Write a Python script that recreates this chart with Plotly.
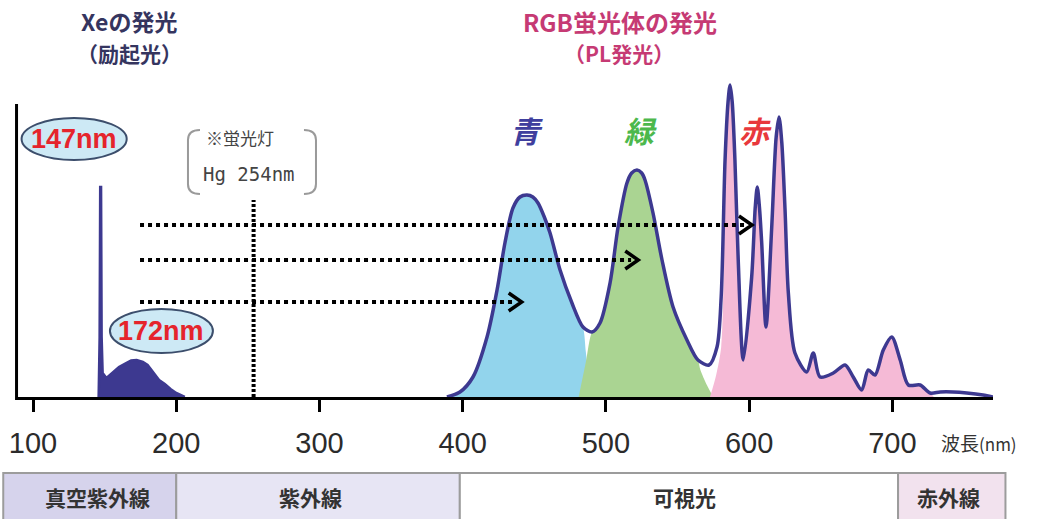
import plotly.graph_objects as go

# ---------------------------------------------------------------------------
# Spectra: wavelength (nm) and relative intensity (a.u.)
# ---------------------------------------------------------------------------
# Xe excimer emission (147 nm resonance line + 172 nm continuum)
xe_nm = [145.8, 146.5, 146.9, 147.5, 147.9, 148.6, 151.3, 155.0, 160.0, 165.0,
         168.5, 172.3, 176.7, 180.0, 184.0, 188.0, 192.0, 196.0, 200.0, 204.0, 206.0]
xe_int = [0, 60, 210, 210, 60, 24, 19, 24, 30, 34,
          36.5, 37, 35, 32, 25, 17, 13, 8, 4, 1, 0]

# Total photoluminescence of the RGB phosphor blend
pl_nm = [389, 398.1, 407.2, 417, 424, 429.5, 435.1, 440, 444.9, 449, 452.6, 457,
         461, 468, 476.3, 484, 490.3, 495.9, 502.9, 508.5, 514.7, 518, 521.7, 525,
         527.3, 532.9, 539.2, 546.9, 556.6, 564.3, 572, 577.6, 580.5, 583.2, 585.3,
         586.7, 588.2, 590.1, 592.4, 595.9, 601.8, 604.3, 605.7, 607.2, 608.8, 611.8,
         615.8, 618.9, 620.9, 622.8, 625.1, 627.4, 632, 640.2, 644.8, 649.5, 658.8,
         667, 672.7, 678.6, 683.2, 687.9, 693.7, 699.6, 705.5, 711.2, 719.4, 726.4,
         733.4, 742.4, 752, 763.3, 770.3]
pl_int = [0, 5, 20, 60, 107, 154, 189, 200, 202, 200, 194, 180,
          164, 127, 94, 70, 65, 74, 114, 170, 214, 224, 227, 224,
          217, 184, 137, 90, 57, 37, 32, 50, 100, 237, 295,
          312, 295, 237, 137, 37, 120, 190, 210, 190, 154, 70,
          170, 260, 280, 255, 187, 104, 44, 25, 44, 20, 24,
          32, 20, 7, 27, 22, 47, 60, 37, 12, 12, 4,
          5, 5, 4, 2, 0]

# Individual phosphor components
blue_nm = [389, 398.1, 407.2, 417, 424, 429.5, 435.1, 440, 444.9, 449, 452.6, 457,
           461, 468, 476.3, 484, 486, 488, 490, 491.5]
blue_int = [0, 5, 20, 60, 107, 154, 189, 200, 202, 200, 194, 180,
            164, 127, 94, 70, 45, 20, 5, 0]

green_nm = [481, 482, 486, 490.3, 495.9, 502.9, 508.5, 514.7, 518, 521.7, 525,
            527.3, 532.9, 539.2, 546.9, 556.6, 564.3, 566, 570.5, 575]
green_int = [0, 7, 35, 65, 74, 114, 170, 214, 224, 227, 224,
             217, 184, 137, 90, 57, 37, 27, 12, 0]

red_nm = [572.7, 577, 580.5, 582.5, 583.2, 585.3, 586.7, 588.2, 590.1, 592.4, 595.9,
          601.8, 604.3, 605.7, 607.2, 608.8, 611.8, 615.8, 618.9, 620.9, 622.8, 625.1,
          627.4, 632, 640.2, 644.8, 649.5, 658.8, 667, 672.7, 678.6, 683.2, 687.9,
          693.7, 699.6, 705.5, 711.2, 719.4, 726.4, 729]
red_int = [0, 22, 50, 150, 237, 295, 312, 295, 237, 137, 37,
           120, 190, 210, 190, 154, 70, 170, 260, 280, 255, 187,
           104, 44, 25, 44, 20, 24, 32, 20, 7, 27, 22,
           47, 60, 37, 12, 12, 4, 0]

# Energy transfer arrows: (start nm, tip nm, level)
arrow_rows = [(174.7, 602.0, 172), (174.7, 522.6, 137), (174.7, 441.2, 95)]

# Hg line of a fluorescent lamp
hg_nm = 254
hg_top = 197

tick_vals = [100, 200, 300, 400, 500, 600, 700]
tick_text = ["100", "200", "300", "400", "500", "600", "700"]

band_labels = ["真空紫外線", "紫外線", "可視光", "赤外線"]
band_edges = [(79.2, 200.0), (200.0, 398.0), (398.0, 704.0), (704.0, 779.0)]
band_fills = ["#d6d3ec", "#e7e5f4", "#ffffff", "#f2e2ee"]
band_text_nm = [144.9, 293.4, 554.9, 738.9]

# ---------------------------------------------------------------------------
X_RANGE = [89.5, 770.3]
Y_RANGE = [0, 397]
PLOT_H = 397
PX_PER_NM = 1.4321


def xp(nm):
    """wavelength -> paper x"""
    return (nm - X_RANGE[0]) / (X_RANGE[1] - X_RANGE[0])


def yp_px(dy):
    """pixels below the baseline -> paper y"""
    return -dy / PLOT_H


OUTLINE = "#3d3990"
CJK = "Noto Sans CJK JP"

fig = go.Figure()

fig.add_trace(go.Scatter(x=blue_nm, y=blue_int, mode="lines", fill="tozeroy",
                         fillcolor="#92d4ec", line=dict(width=0, shape="spline", smoothing=0.8),
                         hoverinfo="skip"))
fig.add_trace(go.Scatter(x=green_nm, y=green_int, mode="lines", fill="tozeroy",
                         fillcolor="#aad492", line=dict(width=0, shape="spline", smoothing=0.8),
                         hoverinfo="skip"))
fig.add_trace(go.Scatter(x=red_nm, y=red_int, mode="lines", fill="tozeroy",
                         fillcolor="#f5bad6", line=dict(width=0, shape="spline", smoothing=0.8),
                         hoverinfo="skip"))
fig.add_trace(go.Scatter(x=xe_nm, y=xe_int, mode="lines", fill="tozeroy",
                         fillcolor=OUTLINE, line=dict(color=OUTLINE, width=2.5),
                         hoverinfo="skip"))
fig.add_trace(go.Scatter(x=pl_nm, y=pl_int, mode="lines",
                         line=dict(color=OUTLINE, width=3.5, shape="spline", smoothing=0.8),
                         hoverinfo="skip"))

shapes = []
annotations = []

# y axis line
shapes.append(dict(type="line", xref="paper", yref="paper", x0=-0.0015, x1=-0.0015,
                   y0=yp_px(3), y1=293 / PLOT_H, line=dict(color="black", width=3)))

# Hg 254 nm marker
shapes.append(dict(type="line", xref="x", yref="y", x0=hg_nm, x1=hg_nm, y0=0, y1=hg_top,
                   line=dict(color="black", width=4, dash="3px,2px")))

# dotted transfer arrows with open chevron heads
head_len = 13 / PX_PER_NM
head_half = 9
for x0, tip, lvl in arrow_rows:
    shapes.append(dict(type="line", xref="x", yref="y", x0=x0, x1=tip - 5, y0=lvl, y1=lvl,
                       line=dict(color="black", width=4, dash="4px,4px")))
    chevron = (f"M {tip - head_len},{lvl + head_half} L {tip},{lvl} "
               f"L {tip - head_len},{lvl - head_half}")
    shapes.append(dict(type="path", xref="x", yref="y", path=chevron,
                       line=dict(color="black", width=3.5)))


# Hg note brackets
def bx(px):
    return 400 + (px - 462.7) / PX_PER_NM


def by(py):
    return 397 - py


left_br = (f"M {bx(200)},{by(130)} Q {bx(188)},{by(130)} {bx(188)},{by(140)} "
           f"L {bx(188)},{by(184)} Q {bx(188)},{by(194)} {bx(200)},{by(194)}")
right_br = (f"M {bx(304)},{by(130)} Q {bx(316)},{by(130)} {bx(316)},{by(140)} "
            f"L {bx(316)},{by(184)} Q {bx(316)},{by(194)} {bx(304)},{by(194)}")
for p in (left_br, right_br):
    shapes.append(dict(type="path", xref="x", yref="y", path=p,
                       line=dict(color="#9a9a9a", width=2)))

# wavelength labels in ellipses
for (ex0, ex1, ey0, ey1) in [(92.0, 165.4, 237, 279), (153.7, 225.6, 44, 88)]:
    shapes.append(dict(type="circle", xref="x", yref="y", x0=ex0, x1=ex1, y0=ey0, y1=ey1,
                       fillcolor="#cde9f5", line=dict(color="#3c4e6c", width=2)))

# spectral region bands
for (a, b), col in zip(band_edges, band_fills):
    shapes.append(dict(type="rect", xref="paper", yref="paper", x0=xp(a), x1=xp(b),
                       y0=yp_px(130), y1=yp_px(76), fillcolor=col,
                       line=dict(color="#9c9c9c", width=2), layer="below"))

for lab, cx in zip(band_labels, band_text_nm):
    annotations.append(dict(x=xp(cx), y=yp_px(100), xref="paper", yref="paper", text=lab,
                            xanchor="center", yanchor="middle", showarrow=False,
                            font=dict(family=CJK, size=21, color="#333333", weight="bold")))

# titles
annotations += [
    dict(x=167.3, y=376, xref="x", yref="y", text="Xeの発光", showarrow=False,
         font=dict(family=CJK, size=23, color="#35355f", weight="bold")),
    dict(x=167.3, y=344, xref="x", yref="y", text="（励起光）", showarrow=False,
         font=dict(family=CJK, size=21, color="#35355f", weight="bold")),
    dict(x=510.0, y=376, xref="x", yref="y", text="RGB蛍光体の発光", showarrow=False,
         font=dict(family=CJK, size=24, color="#c63a74", weight="bold")),
    dict(x=509.0, y=344, xref="x", yref="y", text="（PL発光）", showarrow=False,
         font=dict(family=CJK, size=21, color="#c63a74", weight="bold")),
]

# phosphor colour labels
for txt, cx, col in [("青", 444.5, "#3f3f9e"), ("緑", 524.0, "#4cb84c"), ("赤", 604.2, "#e8383c")]:
    annotations.append(dict(x=cx, y=267, xref="x", yref="y", text=f"<i>{txt}</i>",
                            showarrow=False,
                            font=dict(family=CJK, size=30, color=col, weight="bold")))

# ellipse labels
for txt, cx, cy in [("147nm", 128.7, 258), ("172nm", 189.6, 66)]:
    annotations.append(dict(x=cx, y=cy, xref="x", yref="y", text=txt, showarrow=False,
                            font=dict(family="Liberation Sans, Arial", size=27,
                                      color="#e5242c", weight="bold")))

# Hg note text
annotations += [
    dict(x=244.8, y=260, xref="x", yref="y", text="※蛍光灯", showarrow=False,
         font=dict(family=CJK, size=17, color="#444444")),
    dict(x=250.8, y=223, xref="x", yref="y", text="Hg 254nm", showarrow=False,
         font=dict(family="DejaVu Sans Mono", size=19, color="#444444")),
]

# axis title
annotations.append(dict(x=xp(760.5), y=yp_px(45), xref="paper", yref="paper",
                        xanchor="center", yanchor="middle",
                        text="波長<span style='font-size:17px'>(nm)</span>", showarrow=False,
                        font=dict(family=CJK, size=19, color="#333333")))

fig.update_layout(
    width=1040, height=519,
    margin=dict(l=18, r=47, t=0, b=122),
    plot_bgcolor="white", paper_bgcolor="white",
    showlegend=False,
    shapes=shapes,
    annotations=annotations,
    xaxis=dict(range=X_RANGE, tickvals=tick_vals, ticktext=tick_text,
               showgrid=False, zeroline=False, showline=True, linecolor="black",
               linewidth=3, ticks="outside", ticklen=12, tickwidth=3, tickcolor="black",
               ticklabelstandoff=6,
               tickfont=dict(family="Liberation Sans, Arial", size=29, color="#2b2b2b")),
    yaxis=dict(range=Y_RANGE, visible=False),
)

fig.write_html("out.html")
